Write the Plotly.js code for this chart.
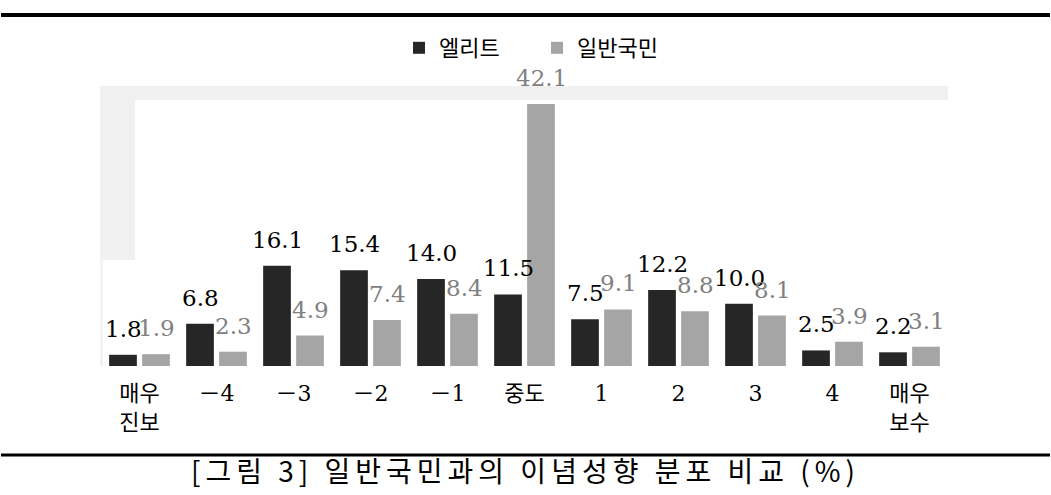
<!DOCTYPE html>
<html>
<head>
<meta charset="utf-8">
<script src="https://cdn.plot.ly/plotly-3.0.1.min.js"></script>
<style>
  html, body { margin:0; padding:0; background:#fff; }
  #wrap { position:relative; width:1051px; height:495px; overflow:hidden; }
  #chart { position:absolute; left:0; top:0; width:1051px; height:495px; }
  #caption { position:absolute; left:0; width:1051px; top:453px; height:34px; text-align:center;
    font-family:"Noto Sans CJK KR","Noto Sans",sans-serif; font-size:28px; line-height:34px; color:#000; }
  #caption span { display:inline-block; letter-spacing:5px; white-space:pre; }
</style>
</head>
<body>
<div id="wrap">
  <div id="chart"></div>
  <div id="caption"><span>[그림 3] 일반국민과의 이념성향 분포 비교 (%)</span></div>
</div>
<script>
const categories = ['매우 진보', '-4', '-3', '-2', '-1', '중도', '1', '2', '3', '4', '매우 보수'];
const tickLabels = ['매우<br>진보', '－4', '－3', '－2', '－1', '중도', '1', '2', '3', '4', '매우<br>보수'];
const seriesNames = ['엘리트', '일반국민'];
const eliteValues = [1.8, 6.8, 16.1, 15.4, 14.0, 11.5, 7.5, 12.2, 10.0, 2.5, 2.2];
const publicValues = [1.9, 2.3, 4.9, 7.4, 8.4, 42.1, 9.1, 8.8, 8.1, 3.9, 3.1];

const L = 101, T = 86, W = 847, H = 280;
const px = v => (v - L) / W;
const py = v => (T + H - v) / H;

const serif = 'DejaVu Serif, Noto Sans CJK KR, serif';

const traces = [
  { type: 'bar', name: seriesNames[0], x: categories, y: eliteValues,
    marker: { color: '#262626' }, hoverinfo: 'skip' },
  { type: 'bar', name: seriesNames[1], x: categories, y: publicValues,
    marker: { color: '#a5a5a5' }, hoverinfo: 'skip' }
];

const annotations = [];
[[eliteValues, -16.5, '#000000'], [publicValues, 16.5, '#808080']].forEach(([vals, dx, col]) => {
  vals.forEach((v, i) => {
    // category axis: position i is the i-th category
    annotations.push({ x: i, y: v, xref: 'x', yref: 'y', text: v.toFixed(1),
      showarrow: false, xshift: dx, yshift: 26, yanchor: 'middle', xanchor: 'center',
      font: { family: serif, size: 23, color: col } });
  });
});

const shapes = [
  { type: 'rect', xref: 'paper', yref: 'paper', x0: px(100), x1: px(948), y0: py(100), y1: py(86),
    fillcolor: '#f0f0f0', line: { width: 0 }, layer: 'below' },
  { type: 'rect', xref: 'paper', yref: 'paper', x0: px(100), x1: px(135), y0: py(260), y1: py(100),
    fillcolor: '#f0f0f0', line: { width: 0 }, layer: 'below' },
  { type: 'rect', xref: 'paper', yref: 'paper', x0: px(100), x1: px(103), y0: py(366), y1: py(260),
    fillcolor: '#f3f3f3', line: { width: 0 }, layer: 'below' },
  { type: 'line', xref: 'paper', yref: 'paper', x0: px(1), x1: px(1050), y0: py(15), y1: py(15),
    line: { color: '#000', width: 4 } },
  { type: 'line', xref: 'paper', yref: 'paper', x0: px(1), x1: px(1050), y0: py(455), y1: py(455),
    line: { color: '#000', width: 3 } }
];

const layout = {
  width: 1051, height: 495,
  margin: { l: L, r: 1051 - L - W, t: T, b: 495 - T - H, pad: 0 },
  paper_bgcolor: '#ffffff', plot_bgcolor: 'rgba(0,0,0,0)',
  barmode: 'group', bargap: 0.143, bargroupgap: 0.16,
  showlegend: true,
  legend: { orientation: 'h', x: px(399), xanchor: 'left', y: py(48), yanchor: 'middle',
    entrywidth: 93, entrywidthmode: 'pixels', traceorder: 'normal',
    font: { family: 'Noto Sans CJK KR, sans-serif', size: 22, color: '#000' },
    bgcolor: 'rgba(0,0,0,0)' },
  xaxis: { type: 'category', tickmode: 'array', tickvals: categories, ticktext: tickLabels,
    range: [-0.5, 10.5], showgrid: false, zeroline: false, showline: false, ticks: '',
    ticklabelstandoff: 12,
    tickfont: { family: serif, size: 22, color: '#000' }, fixedrange: true },
  yaxis: { range: [0, 45], showgrid: false, zeroline: false, showline: false,
    showticklabels: false, ticks: '', fixedrange: true },
  shapes: shapes,
  annotations: annotations,
  font: { family: serif }
};

Plotly.newPlot('chart', traces, layout, { displayModeBar: false, staticPlot: true });
</script>
</body>
</html>
